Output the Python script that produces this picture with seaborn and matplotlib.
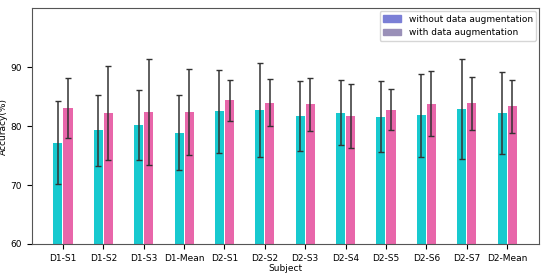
import matplotlib
matplotlib.use("Agg")
import matplotlib.pyplot as plt
import pandas as pd
import seaborn as sns
from matplotlib.patches import Patch

subjects = ["D1-S1", "D1-S2", "D1-S3", "D1-Mean", "D2-S1", "D2-S2",
            "D2-S3", "D2-S4", "D2-S5", "D2-S6", "D2-S7", "D2-Mean"]
acc_without = [77.2, 79.3, 80.2, 78.9, 82.5, 82.7, 81.7, 82.3, 81.6, 81.8, 82.9, 82.2]
sd_without = [7.0, 6.0, 6.0, 6.3, 7.0, 8.0, 6.0, 5.5, 6.0, 7.0, 8.5, 6.9]
acc_with = [83.1, 82.2, 82.4, 82.4, 84.4, 84.0, 83.7, 81.7, 82.8, 83.8, 83.9, 83.4]
sd_with = [5.1, 8.0, 9.0, 7.3, 3.5, 4.0, 4.5, 5.5, 3.5, 5.5, 4.5, 4.5]

series = ["without data augmentation", "with data augmentation"]
bar_colors = ["#17c9cf", "#e866aa"]
legend_colors = ["#7b7fd6", "#9a90b8"]

df = pd.DataFrame({
    "Subject": subjects * 2,
    "Accuracy": acc_without + acc_with,
    "sd": sd_without + sd_with,
    "group": [series[0]] * len(subjects) + [series[1]] * len(subjects),
})

plt.rcParams["font.size"] = 6.5
fig, ax = plt.subplots(figsize=(5.5, 2.75), dpi=100)
sns.barplot(data=df, x="Subject", y="Accuracy", hue="group", hue_order=series,
            palette=bar_colors, saturation=1, width=0.5, gap=0.1,
            errorbar=None, legend=False, ax=ax)

# error bars at the bar centres placed by seaborn
for patch, (_, row) in zip(ax.patches, df.iterrows()):
    cx = patch.get_x() + patch.get_width() / 2
    ax.errorbar(cx, row["Accuracy"], yerr=row["sd"], fmt="none",
                ecolor="#333333", elinewidth=1.1, capsize=2, capthick=1)

ax.set_ylim(60, 100)
ax.set_yticks([60, 70, 80, 90])
ax.set_xlim(-0.77, 11.79)
ax.set_xlabel("Subject", fontsize=6.5, labelpad=1)
ax.set_ylabel("Accuracy(%)", fontsize=6.5, labelpad=2)
ax.tick_params(labelsize=6.5)
for s in ax.spines.values():
    s.set_color("#555555")

handles = [Patch(color=c, label=l) for c, l in zip(legend_colors, series)]
ax.legend(handles=handles, loc="upper right", fontsize=6.5, frameon=True,
          handlelength=2, borderaxespad=0.3)

plt.subplots_adjust(left=0.058, right=0.98, top=0.97, bottom=0.113)
plt.savefig("out.png", dpi=100)
plt.close()
